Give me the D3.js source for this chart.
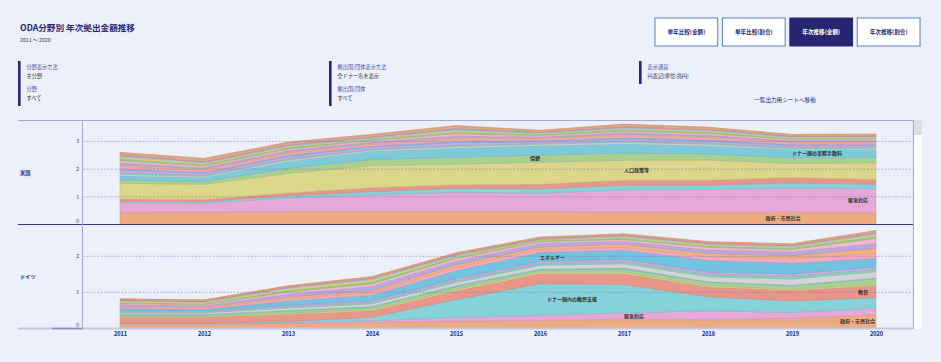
<!DOCTYPE html>
<html>
<head>
<meta charset="utf-8">
<script src="https://cdn.jsdelivr.net/npm/d3@7"></script>
<style>
  body { margin: 0; background: #ECF0FA; }
  text { font-family: "Noto Sans CJK JP", "Noto Sans", sans-serif; }
</style>
</head>
<body>
<script>
//years on the x axis
var years = [2011, 2012, 2013, 2014, 2015, 2016, 2017, 2018, 2019, 2020];

//sectors, bottom to top of the stack
var sectors = ["政府・市民社会", "緊急対応", "ドナー国内の難民支援", "教育", "人口政策等", "保健",
  "ドナー国の事務手数料", "その他の社会インフラ", "水と衛生", "農林水産", "エネルギー", "運輸・倉庫",
  "多分野横断", "環境保護", "ビジネス", "銀行・金融", "工業・鉱業・建設", "貿易・観光", "通信",
  "食糧援助", "未分類"];

var sectorColors = ["#EEAA80", "#E6A8D6", "#86D2DA", "#E8958A", "#DCD68A", "#A9D08F",
  "#7CC9DA", "#D2D4D8", "#8CCFB4", "#C3ACE0", "#72C2E0", "#F1A9C4",
  "#F2B27E", "#BBA6DE", "#F4B6D2", "#92CF7F", "#E5D679", "#A9C8EC", "#E68C8C",
  "#D7B4A2", "#EFA474"];

//US values (兆円), one row per sector
var usValues = [
  [0.44, 0.45, 0.46, 0.47, 0.47, 0.46, 0.45, 0.44, 0.44, 0.44],
  [0.35, 0.33, 0.50, 0.60, 0.70, 0.67, 0.80, 0.82, 0.88, 0.85],
  [0.05, 0.05, 0.08, 0.12, 0.14, 0.16, 0.17, 0.17, 0.18, 0.17],
  [0.08, 0.07, 0.10, 0.14, 0.13, 0.16, 0.18, 0.17, 0.20, 0.17],
  [0.57, 0.55, 0.71, 0.80, 0.74, 0.80, 0.72, 0.73, 0.51, 0.60],
  [0.12, 0.10, 0.18, 0.22, 0.25, 0.26, 0.26, 0.22, 0.20, 0.19],
  [0.15, 0.15, 0.25, 0.30, 0.33, 0.34, 0.34, 0.30, 0.30, 0.30],
  [0.05, 0.04, 0.05, 0.04, 0.06, 0.05, 0.05, 0.05, 0.04, 0.04],
  [0.06, 0.04, 0.04, 0.03, 0.04, 0.03, 0.04, 0.04, 0.03, 0.03],
  [0.10, 0.08, 0.09, 0.08, 0.10, 0.07, 0.09, 0.08, 0.07, 0.07],
  [0.04, 0.03, 0.04, 0.04, 0.05, 0.03, 0.04, 0.04, 0.04, 0.03],
  [0.09, 0.07, 0.07, 0.06, 0.08, 0.06, 0.07, 0.07, 0.06, 0.06],
  [0.06, 0.05, 0.05, 0.04, 0.06, 0.04, 0.05, 0.05, 0.04, 0.04],
  [0.07, 0.05, 0.05, 0.05, 0.06, 0.04, 0.06, 0.05, 0.04, 0.04],
  [0.08, 0.06, 0.06, 0.05, 0.07, 0.05, 0.06, 0.06, 0.05, 0.05],
  [0.07, 0.05, 0.05, 0.04, 0.06, 0.04, 0.05, 0.05, 0.04, 0.04],
  [0.06, 0.04, 0.04, 0.03, 0.05, 0.03, 0.04, 0.04, 0.03, 0.03],
  [0.05, 0.04, 0.04, 0.04, 0.05, 0.03, 0.04, 0.04, 0.03, 0.03],
  [0.04, 0.04, 0.03, 0.03, 0.04, 0.02, 0.04, 0.03, 0.02, 0.03],
  [0.05, 0.06, 0.06, 0.05, 0.06, 0.04, 0.05, 0.04, 0.04, 0.03],
  [0.03, 0.04, 0.03, 0.03, 0.04, 0.03, 0.03, 0.03, 0.02, 0.03]
];

//Germany values (兆円)
var deValues = [
  [0.11, 0.11, 0.13, 0.16, 0.20, 0.22, 0.26, 0.24, 0.28, 0.38],
  [0.02, 0.02, 0.03, 0.05, 0.10, 0.14, 0.17, 0.25, 0.16, 0.18],
  [0.01, 0.01, 0.03, 0.10, 0.50, 0.88, 0.79, 0.39, 0.32, 0.29],
  [0.17, 0.17, 0.20, 0.18, 0.24, 0.28, 0.30, 0.27, 0.30, 0.33],
  [0.02, 0.02, 0.03, 0.03, 0.04, 0.04, 0.04, 0.03, 0.03, 0.03],
  [0.04, 0.04, 0.06, 0.07, 0.08, 0.06, 0.09, 0.10, 0.09, 0.17],
  [0.02, 0.02, 0.02, 0.02, 0.03, 0.03, 0.03, 0.02, 0.02, 0.02],
  [0.04, 0.04, 0.06, 0.07, 0.08, 0.10, 0.11, 0.13, 0.17, 0.17],
  [0.03, 0.03, 0.04, 0.04, 0.05, 0.05, 0.06, 0.07, 0.07, 0.07],
  [0.03, 0.03, 0.04, 0.05, 0.06, 0.06, 0.07, 0.07, 0.07, 0.07],
  [0.06, 0.04, 0.12, 0.15, 0.22, 0.25, 0.25, 0.32, 0.30, 0.23],
  [0.04, 0.04, 0.06, 0.07, 0.09, 0.08, 0.08, 0.10, 0.12, 0.14],
  [0.03, 0.03, 0.05, 0.06, 0.08, 0.07, 0.09, 0.09, 0.09, 0.14],
  [0.04, 0.03, 0.08, 0.12, 0.10, 0.10, 0.08, 0.10, 0.11, 0.14],
  [0.03, 0.03, 0.06, 0.07, 0.07, 0.05, 0.05, 0.07, 0.06, 0.14],
  [0.03, 0.03, 0.05, 0.05, 0.04, 0.03, 0.04, 0.04, 0.04, 0.06],
  [0.03, 0.03, 0.04, 0.05, 0.03, 0.02, 0.03, 0.03, 0.03, 0.04],
  [0.02, 0.02, 0.03, 0.04, 0.03, 0.02, 0.03, 0.03, 0.03, 0.04],
  [0.02, 0.02, 0.02, 0.02, 0.02, 0.02, 0.02, 0.02, 0.02, 0.03],
  [0.02, 0.02, 0.02, 0.02, 0.02, 0.02, 0.02, 0.02, 0.02, 0.03],
  [0.01, 0.01, 0.01, 0.02, 0.02, 0.02, 0.02, 0.02, 0.02, 0.02]
];

var buttonLabels = ["単年比較(金額)", "単年比較(割合)", "年次推移(金額)", "年次推移(割合)"];

var W = 941, H = 362;
var navy = "#262670";

var svg = d3.select("body").append("svg")
  .attr("width", W)
  .attr("height", H);

svg.append("rect").attr("width", W).attr("height", H).attr("fill", "#ECF0FA");

//title
svg.append("text").attr("x", 20).attr("y", 31)
  .attr("font-size", 8.4).attr("font-weight", "bold").attr("fill", navy)
  .attr("textLength", 115).attr("lengthAdjust", "spacingAndGlyphs")
  .text("ODA分野別 年次拠出金額推移");
svg.append("text").attr("x", 20).attr("y", 42)
  .attr("font-size", 5.2).attr("fill", "#333")
  .text("2011 ～ 2020");

//buttons
var bx = d3.scaleBand().domain(buttonLabels).range([655, 920]).paddingInner(0.07);
buttonLabels.forEach(function(b, i) {
  var on = i === 2;
  svg.append("rect").attr("x", bx(b)).attr("y", 18).attr("width", bx.bandwidth()).attr("height", 28)
    .attr("fill", on ? navy : "#fff").attr("stroke", on ? navy : "#5B80B8").attr("stroke-width", 1);
  svg.append("text").attr("x", bx(b) + bx.bandwidth() / 2).attr("y", 34)
    .attr("text-anchor", "middle").attr("font-size", 5.6).attr("font-weight", "bold")
    .attr("fill", on ? "#fff" : navy).text(b);
});

//filter blocks
function filterBlock(x, h, items) {
  svg.append("rect").attr("x", x).attr("y", 61).attr("width", 2.6).attr("height", h).attr("fill", navy);
  items.forEach(function(it, i) {
    svg.append("text").attr("x", x + 8.5).attr("y", 69 + i * 22)
      .attr("font-size", 5.2).attr("fill", "#4C4C9A").text(it[0]);
    svg.append("text").attr("x", x + 8.5).attr("y", 77.5 + i * 22)
      .attr("font-size", 5.2).attr("fill", "#333").text(it[1]);
  });
}
filterBlock(18, 45, [["分野表示方法", "主分野"], ["分野", "すべて"]]);
filterBlock(329, 45, [["拠出国/団体表示方法", "全ドナー名を表示"], ["拠出国/団体", "すべて"]]);
filterBlock(639, 23, [["表示通貨", "円表記(単位:兆円)"]]);

svg.append("text").attr("x", 785).attr("y", 102).attr("text-anchor", "middle")
  .attr("font-size", 5.6).attr("fill", navy).text("一覧出力用シートへ移動");

//chart layout
var plotL = 83, plotR = 913;
var xScale = d3.scalePoint().domain(years).range([120, 876]);

var panels = [
  { name: "米国", values: usValues, top: 121, bottom: 224.5, max: 3.74, ticks: [0, 1, 2, 3],
    labels: [
      { s: 5, year: 2016, anchor: "end", dx: 0 },
      { s: 4, year: 2017, anchor: "start", dx: 0 },
      { s: 6, year: 2019, anchor: "start", dx: 0 },
      { s: 1, year: 2020, anchor: "end", dx: -8 },
      { s: 0, year: 2019, anchor: "middle", dx: -9 }
    ] },
  { name: "ドイツ", values: deValues, top: 225, bottom: 328.3, max: 2.87, ticks: [0, 1, 2],
    labels: [
      { s: 10, year: 2016, anchor: "start", dx: 0 },
      { s: 2, year: 2016, anchor: "start", dx: 7 },
      { s: 1, year: 2017, anchor: "start", dx: 0 },
      { s: 3, year: 2020, anchor: "end", dx: -8 },
      { s: 0, year: 2020, anchor: "end", dx: -1 }
    ] }
];

var stack = d3.stack().keys(d3.range(sectors.length));

panels.forEach(function(p, pi) {
  var yScale = d3.scaleLinear().domain([0, p.max]).range([p.bottom, p.top]);
  var rows = years.map(function(yr, i) {
    var r = { year: yr };
    p.values.forEach(function(v, k) { r[k] = v[i]; });
    return r;
  });
  var series = stack(rows);

  var g = svg.append("g");
  var area = d3.area()
    .x(function(d) { return xScale(d.data.year); })
    .y0(function(d) { return yScale(d[0]); })
    .y1(function(d) { return yScale(d[1]); });

  g.selectAll("path.area").data(series).enter().append("path")
    .attr("class", "area")
    .attr("d", area)
    .attr("fill", function(d) { return sectorColors[d.key]; })
    .attr("stroke", function(d) { return d3.color(sectorColors[d.key]).darker(0.35); })
    .attr("stroke-width", 0.5);

  //grid lines
  p.ticks.filter(function(t) { return t > 0; }).forEach(function(t) {
    g.append("line").attr("x1", plotL).attr("x2", plotR)
      .attr("y1", yScale(t)).attr("y2", yScale(t))
      .attr("stroke", "#6A6AA8").attr("stroke-opacity", 0.55)
      .attr("stroke-width", 0.8).attr("stroke-dasharray", "2,1.5");
  });

  //y tick labels
  p.ticks.forEach(function(t) {
    svg.append("text").attr("x", 79).attr("y", yScale(t) + (t === 0 ? -1.5 : 1.8))
      .attr("text-anchor", "end").attr("font-size", 5).attr("fill", "#333").text(t);
  });

  //row label
  svg.append("text").attr("x", 20).attr("y", (p.top + p.bottom) / 2 + 2)
    .attr("font-size", 5.2).attr("font-weight", "bold").attr("fill", navy).text(p.name);

  //mark labels
  p.labels.forEach(function(l) {
    var i = years.indexOf(l.year);
    var d = series[l.s][i];
    svg.append("text")
      .attr("x", xScale(l.year) + l.dx)
      .attr("y", yScale((d[0] + d[1]) / 2) + 1.8)
      .attr("text-anchor", l.anchor)
      .attr("font-size", 5).attr("font-weight", "bold").attr("fill", "#333")
      .text(sectors[l.s]);
  });
});

//frame lines
svg.append("line").attr("x1", 18).attr("x2", plotR).attr("y1", 120.5).attr("y2", 120.5)
  .attr("stroke", "#A8A8D0").attr("stroke-width", 1);
svg.append("line").attr("x1", 18).attr("x2", plotR).attr("y1", 224.5).attr("y2", 224.5)
  .attr("stroke", "#3A3A82").attr("stroke-width", 1);
svg.append("line").attr("x1", 18).attr("x2", plotR).attr("y1", 328.5).attr("y2", 328.5)
  .attr("stroke", "#C4C8E0").attr("stroke-width", 2);
svg.append("line").attr("x1", 52).attr("x2", 83).attr("y1", 328.5).attr("y2", 328.5)
  .attr("stroke", "#8C8CC0").attr("stroke-width", 1.5);
svg.append("line").attr("x1", 82.5).attr("x2", 82.5).attr("y1", 120).attr("y2", 329)
  .attr("stroke", "#A8A8D0").attr("stroke-width", 1);
svg.append("line").attr("x1", plotR + 0.5).attr("x2", plotR + 0.5).attr("y1", 120).attr("y2", 329)
  .attr("stroke", "#A8A8D0").attr("stroke-width", 1.2);

//scrollbar
svg.append("rect").attr("x", 914).attr("y", 120).attr("width", 8).attr("height", 209).attr("fill", "#fff");
svg.append("rect").attr("x", 914).attr("y", 120).attr("width", 8).attr("height", 15).attr("fill", "#DCDFE8");

//x axis
var xAxis = svg.append("g").attr("transform", "translate(0,332)")
  .call(d3.axisBottom(xScale).tickSize(0).tickPadding(0));
xAxis.select(".domain").remove();
xAxis.selectAll("text")
  .attr("font-size", 5.6).attr("font-weight", "bold").attr("fill", navy)
  .attr("font-family", "'Noto Sans CJK JP', sans-serif");
</script>
</body>
</html>
